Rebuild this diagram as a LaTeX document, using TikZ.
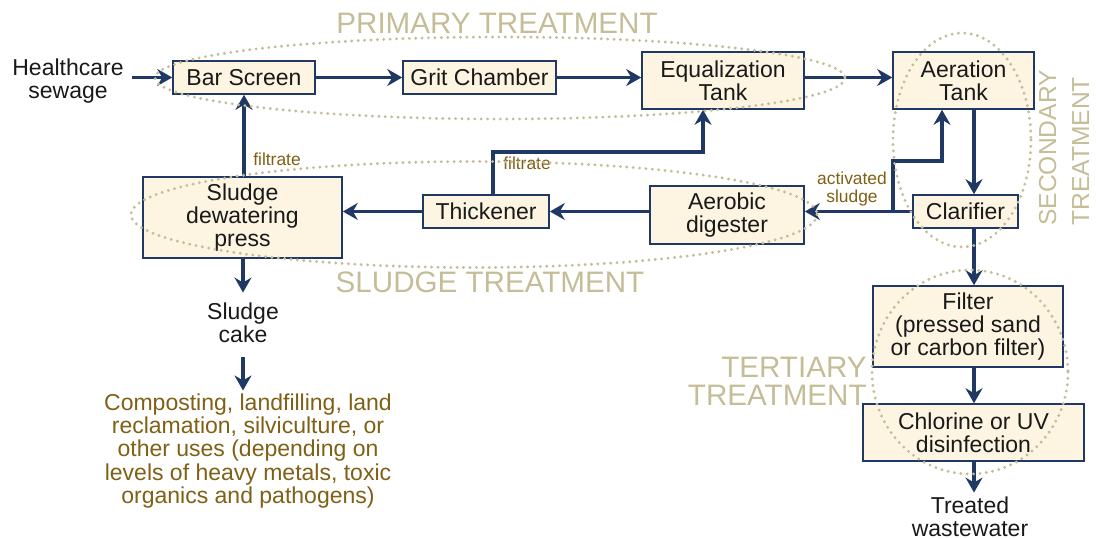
\documentclass[tikz,border=0pt]{standalone}
\usepackage{fontspec}
\setmainfont{Liberation Sans}
\usetikzlibrary{arrows.meta,calc}
\definecolor{navy}{RGB}{31,56,100}
\definecolor{boxfill}{RGB}{253,245,226}
\definecolor{tan}{RGB}{196,189,151}
\definecolor{brownlbl}{RGB}{127,96,20}
\definecolor{txt}{RGB}{25,25,25}
\tikzset{
  procbox/.style={draw=navy, line width=0.8pt, fill=boxfill, inner sep=0pt, align=center,
    text=txt, font=\fontsize{11.5}{11.6}\selectfont},
  plain/.style={inner sep=0pt, align=center, text=txt, font=\fontsize{11.5}{11.6}\selectfont},
  flow/.style={draw=navy, line width=1.6pt, -{Stealth[length=7.5pt,width=8.5pt,inset=2.5pt]}},
  zone/.style={draw=tan, line width=1.6pt, dash pattern=on 0pt off 3.2pt, line cap=round},
  zonelabel/.style={text=tan, inner sep=0pt, font=\fontsize{14.8}{14}\selectfont},
  smalllbl/.style={text=brownlbl, inner sep=0pt, align=center, font=\fontsize{8.7}{9}\selectfont},
}
\begin{document}
\begin{tikzpicture}[x=0.5pt, y=-0.5pt]
\useasboundingbox (0,0) rectangle (1096,539);
% boxes
\node[procbox, minimum width=71pt, minimum height=16.5pt] (bar) at (244,77.5) {Bar Screen};
\node[procbox, minimum width=76.5pt, minimum height=16.5pt] (grit) at (479.5,77.5) {Grit Chamber};
\node[procbox, minimum width=81pt, minimum height=28.5pt] (eq) at (723,80.5) {Equalization\\Tank};
\node[procbox, minimum width=70.5pt, minimum height=28.5pt] (aer) at (963.5,80.5) {Aeration\\Tank};
\node[procbox, minimum width=52.5pt, minimum height=16.5pt] (clar) at (965.5,211.5) {Clarifier};
\node[procbox, minimum width=77pt, minimum height=29pt] (dig) at (727,215) {Aerobic\\digester};
\node[procbox, minimum width=63pt, minimum height=16.5pt] (thick) at (486,211.5) {Thickener};
\node[procbox, minimum width=99.5pt, minimum height=40.5pt] (press) at (242.5,217.5) {Sludge\\dewatering\\press};
\node[procbox, minimum width=95pt, minimum height=40.5pt] (filter) at (968,326.5) {Filter\\(pressed sand\\or carbon filter)};
\node[procbox, minimum width=110.5pt, minimum height=28.5pt] (chlor) at (973.5,432.5) {Chlorine or UV\\disinfection};
% plain texts
\node[plain] (sewage) at (68,81) {Healthcare\\sewage};
\node[plain] (cake) at (243,323) {Sludge\\cake};
\node[plain, text=brownlbl] (uses) at (248,451) {Composting, landfilling, land\\reclamation, silviculture, or\\other uses (depending on\\levels of heavy metals, toxic\\organics and pathogens)};
\node[plain] (treated) at (970,517) {Treated\\wastewater};
% junction coordinates
\coordinate (vx) at (974,0);
\coordinate (cx) at (243,0);
\coordinate (j1) at (893,211.5);
\coordinate (j2) at (942,161);
\coordinate (t1) at (493,152);
\coordinate (t2) at (703,152);
\coordinate (s0) at (132,77.5);
% connectors
\draw[flow] (s0) -- (bar.west);
\draw[flow] (bar.east) -- (grit.west);
\draw[flow] (grit.east) -- (grit.east -| eq.west);
\draw[flow] (eq.east |- grit.east) -- (grit.east -| aer.west);
\draw[flow] (aer.south -| vx) -- (clar.north -| vx);
\draw[flow] (clar.south -| vx) -- (filter.north -| vx);
\draw[flow] (filter.south -| vx) -- (chlor.north -| vx);
\draw[flow] (chlor.south -| vx) -- ([yshift=2pt]treated.north -| vx);
\draw[flow] (clar.west) -- (clar.west -| dig.east);
\draw[flow] (j1) |- (j2) -- (j2 |- aer.south);
\draw[flow] (dig.west |- thick.east) -- (thick.east);
\draw[flow] (thick.west) -- (thick.west -| press.east);
\draw[flow] (t1 |- thick.north) -- (t1) -- (t2) -- (t2 |- eq.south);
\draw[flow] (bar.south |- press.north) -- (bar.south);
\draw[flow] (press.south -| cx) -- ([yshift=5pt]cake.north -| cx);
\draw[flow] ([yshift=-7pt]cake.south -| cx) -- ([yshift=1.5pt]uses.north -| cx);
% labels
\node[smalllbl] (lblf1) at (277,159) {filtrate};
\node[smalllbl] (lblf2) at (527,163) {filtrate};
\node[smalllbl] (lblact) at (852,189) {activated\\sludge};
% zones
\draw[zone] (500,78) ellipse [x radius=345, y radius=41];
\draw[zone] (474,214.5) ellipse [x radius=343, y radius=53];
\draw[zone] (962,140) ellipse [x radius=69, y radius=107];
\draw[zone] (970,372) ellipse [x radius=98, y radius=102];
\node[zonelabel] (primlbl) at (497,23) {PRIMARY TREATMENT};
\node[zonelabel] (sludgelbl) at (490,282) {SLUDGE TREATMENT};
\node[zonelabel, align=right, anchor=east] (terlbl) at (867,381) {TERTIARY\\TREATMENT};
\node[zonelabel, rotate=90, align=left, anchor=west, font=\fontsize{12.3}{16.5}\selectfont] (seclbl) at (1064,226) {SECONDARY\\TREATMENT};
\end{tikzpicture}
\end{document}
